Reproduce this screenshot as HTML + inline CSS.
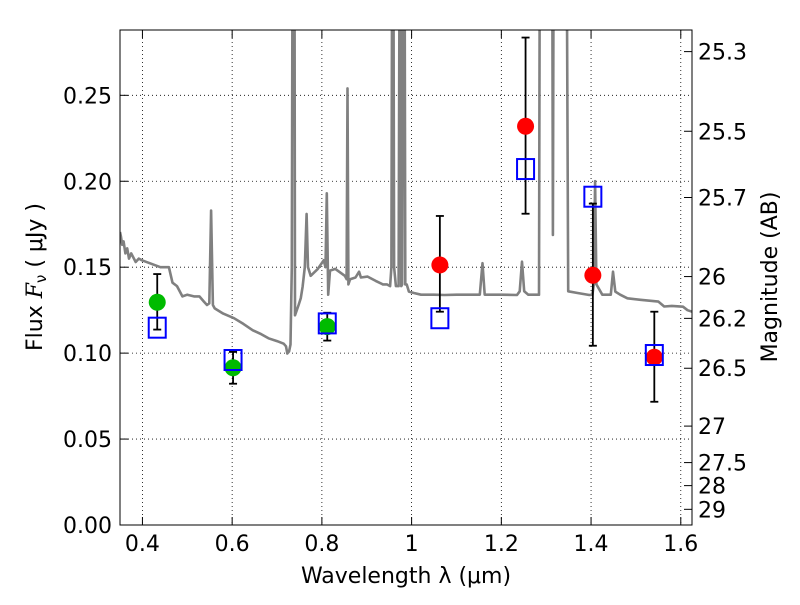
<!DOCTYPE html>
<html><head><meta charset="utf-8"><style>
body{margin:0;background:#fff}
svg text{font-family:"DejaVu Sans","Liberation Sans",sans-serif;fill:#000}
</style></head><body>
<svg id="chart" width="800" height="600" xmlns="http://www.w3.org/2000/svg">
<defs><clipPath id="clip"><rect x="120" y="30" width="572" height="495"/></clipPath></defs>
<rect width="800" height="600" fill="#fff"/>
<g id="grid"></g>
<g id="spec" clip-path="url(#clip)"></g>
<g id="marks" clip-path="url(#clip)"></g>
<rect x="120" y="30" width="572" height="495" fill="none" stroke="#000" stroke-width="1"/>
<g id="axes"></g>
<text x="406" y="583" font-size="22" text-anchor="middle">Wavelength  λ (μm)</text>
<text transform="translate(42,277) rotate(-90)" font-size="22" text-anchor="middle">Flux  <tspan font-style="italic" font-family="DejaVu Serif, serif">F</tspan><tspan font-size="15" dy="4">ν</tspan><tspan dy="-4">  (  μJy )</tspan></text>
<text transform="translate(777,277) rotate(-90)" font-size="22" text-anchor="middle">Magnitude (AB)</text>
</svg>
<script>
const specWave=[0.35,0.352,0.355,0.358,0.362,0.366,0.37,0.375,0.385,0.392,0.399,0.42,0.44,0.459,0.467,0.477,0.489,0.50,0.515,0.527,0.537,0.544,0.549,0.553,0.557,0.561,0.58,0.604,0.625,0.646,0.665,0.681,0.70,0.715,0.72,0.723,0.727,0.730,0.733,0.736,0.738,0.740,0.748,0.753,0.757,0.762,0.766,0.769,0.775,0.791,0.804,0.808,0.811,0.814,0.818,0.83,0.851,0.855,0.857,0.859,0.863,0.875,0.883,0.887,0.902,0.92,0.936,0.945,0.952,0.955,0.958,0.961,0.965,0.971,0.975,0.977,0.979,0.983,0.986,0.989,0.994,1.005,1.021,1.05,1.073,1.1,1.13,1.152,1.158,1.163,1.2,1.235,1.241,1.246,1.251,1.26,1.284,1.287,1.312,1.315,1.318,1.34,1.343,1.349,1.37,1.396,1.403,1.406,1.409,1.412,1.425,1.444,1.449,1.454,1.465,1.481,1.51,1.55,1.563,1.58,1.605,1.615,1.625];
const specFlux=[0.1705,0.168,0.163,0.165,0.158,0.161,0.155,0.158,0.153,0.155,0.154,0.152,0.150,0.150,0.141,0.139,0.133,0.134,0.133,0.133,0.130,0.128,0.129,0.183,0.128,0.126,0.123,0.1203,0.117,0.1133,0.111,0.1086,0.107,0.1055,0.104,0.0998,0.101,0.105,0.15,0.5,0.5,0.122,0.128,0.132,0.1386,0.15,0.181,0.15,0.145,0.149,0.154,0.15,0.193,0.134,0.148,0.149,0.145,0.143,0.254,0.14,0.143,0.144,0.1474,0.144,0.1445,0.142,0.140,0.14,0.139,0.15,0.5,0.15,0.139,0.139,0.5,0.139,0.14,0.5,0.14,0.14,0.1358,0.135,0.134,0.134,0.1338,0.134,0.134,0.134,0.1523,0.134,0.134,0.1338,0.136,0.1532,0.136,0.134,0.134,0.5,0.5,0.1688,0.5,0.5,0.5,0.136,0.135,0.1338,0.134,0.14,0.2,0.14,0.134,0.134,0.1474,0.1358,0.134,0.1319,0.131,0.13,0.1271,0.1275,0.127,0.125,0.1241];
const photWave=[0.433,0.602,0.812,1.063,1.254,1.404,1.541];
const photFlux=[0.1296,0.0915,0.1154,0.1513,0.232,0.1453,0.0976];
const photHi=[0.146,0.1007,0.1235,0.1798,0.2836,0.187,0.1241];
const photLo=[0.1137,0.0822,0.1073,0.1241,0.1811,0.1043,0.0717];
const photColor=['#00bb00','#00bb00','#00bb00','#ff0000','#ff0000','#ff0000','#ff0000'];
const modelFlux=[0.1148,0.096,0.1173,0.1203,0.2071,0.191,0.0989];
const xTicks=[0.4,0.6,0.8,1.0,1.2,1.4,1.6];
const xTickLabels=['0.4','0.6','0.8','1','1.2','1.4','1.6'];
const yTicks=[0,0.05,0.10,0.15,0.20,0.25];
const yTickLabels=['0.00','0.05','0.10','0.15','0.20','0.25'];
const magTicks=[25.3,25.5,25.7,26,26.2,26.5,27,27.5,28,29];
const magLabels=['25.3','25.5','25.7','26','26.2','26.5','27','27.5','28','29'];

const NS='http://www.w3.org/2000/svg';
const X=w=>120+(w-0.35)/(1.625-0.35)*572;
const Y=f=>525-f/0.288*495;
function mk(tag,attrs,parent){const e=document.createElementNS(NS,tag);for(const k in attrs)e.setAttribute(k,attrs[k]);parent.appendChild(e);return e;}
const grid=document.getElementById('grid'),axes=document.getElementById('axes'),spec=document.getElementById('spec'),marks=document.getElementById('marks');
xTicks.forEach((t,i)=>{
  let g=mk('line',{x1:X(t),x2:X(t),y1:30,y2:525,stroke:'#000','stroke-width':0.8,'stroke-dasharray':'1,3'},grid);
  
  let a=mk('line',{x1:X(t),x2:X(t),y1:525,y2:517,stroke:'#000'},axes);
  let b=mk('line',{x1:X(t),x2:X(t),y1:30,y2:38,stroke:'#000'},axes);
  let l=mk('text',{x:X(t),y:551,'font-size':22,'text-anchor':'middle'},axes);l.textContent=xTickLabels[i];
  
});
yTicks.forEach((t,i)=>{
  let g=mk('line',{x1:120,x2:692,y1:Y(t),y2:Y(t),stroke:'#000','stroke-width':0.8,'stroke-dasharray':'1,3'},grid);
  
  let a=mk('line',{x1:120,x2:128,y1:Y(t),y2:Y(t),stroke:'#000'},axes);
  let l=mk('text',{x:112,y:Y(t)+8,'font-size':22,'text-anchor':'end'},axes);l.textContent=yTickLabels[i];
  
});
magTicks.forEach((m,i)=>{
  const y=Y(Math.pow(10,(23.9-m)/2.5));
  let a=mk('line',{x1:692,x2:684,y1:y,y2:y,stroke:'#000'},axes);
  let l=mk('text',{x:698,y:y+8,'font-size':22},axes);l.textContent=magLabels[i];
  
});
let pts=specWave.map((w,i)=>X(w).toFixed(1)+','+Y(specFlux[i]).toFixed(1)).join(' ');
let sp=mk('polyline',{points:pts,fill:'none',stroke:'#808080','stroke-width':2.6,'stroke-linejoin':'round'},spec);

photWave.forEach((w,i)=>{
  const x=X(w);
  let e=mk('line',{x1:x,x2:x,y1:Y(photHi[i]),y2:Y(photLo[i]),stroke:'#000','stroke-width':1.8},marks);
  
  [photHi[i],photLo[i]].forEach(v=>{let c=mk('line',{x1:x-4,x2:x+4,y1:Y(v),y2:Y(v),stroke:'#000','stroke-width':1.8},marks);
    });
  let c=mk('circle',{cx:x,cy:Y(photFlux[i]),r:8.5,fill:photColor[i]},marks);
  
  let s=mk('rect',{x:x-8.5,y:Y(modelFlux[i])-10,width:17,height:20,fill:'none',stroke:'#0000ff','stroke-width':2},marks);
  
});
</script>
</body></html>
